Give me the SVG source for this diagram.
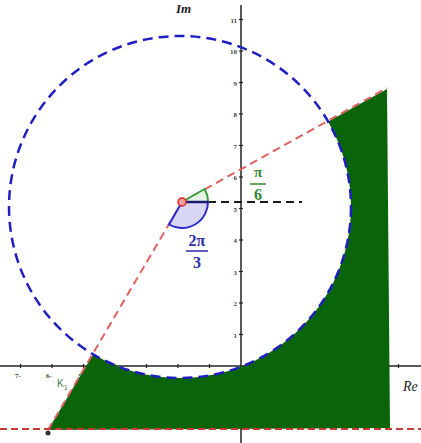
<svg xmlns="http://www.w3.org/2000/svg" width="421" height="443" viewBox="0 0 421 443">
<style>
.axis{stroke:#222;stroke-width:1.5;fill:none}
.tick{stroke:#222;stroke-width:1.2}
.tl{font-family:"Liberation Serif",serif;font-size:7px;font-weight:bold;fill:#444}
.red{stroke:#e06060;stroke-width:2;stroke-dasharray:8 5;fill:none}
.lab{font-family:"Liberation Serif",serif;font-weight:bold}
</style>
<rect width="421" height="443" fill="#fff"/>
<g id="axes">
<line class="axis" x1="0" y1="366" x2="421" y2="366"/>
<line class="axis" x1="241" y1="5" x2="241" y2="443"/>
<g class="tick">
<line x1="20.5" y1="364" x2="20.5" y2="368"/><line x1="52" y1="364" x2="52" y2="368"/><line x1="83.5" y1="364" x2="83.5" y2="368"/>
<line x1="115" y1="364" x2="115" y2="368"/><line x1="146.5" y1="364" x2="146.5" y2="368"/><line x1="178" y1="364" x2="178" y2="368"/>
<line x1="209.5" y1="364" x2="209.5" y2="368"/><line x1="398.5" y1="364" x2="398.5" y2="368"/>
<line x1="239" y1="334.5" x2="243" y2="334.5"/><line x1="239" y1="303" x2="243" y2="303"/><line x1="239" y1="271.5" x2="243" y2="271.5"/>
<line x1="239" y1="240" x2="243" y2="240"/><line x1="239" y1="208.5" x2="243" y2="208.5"/><line x1="239" y1="177" x2="243" y2="177"/>
<line x1="239" y1="145.5" x2="243" y2="145.5"/><line x1="239" y1="114" x2="243" y2="114"/><line x1="239" y1="82.5" x2="243" y2="82.5"/>
<line x1="239" y1="51" x2="243" y2="51"/><line x1="239" y1="19.5" x2="243" y2="19.5"/>
</g>
<g class="tl" text-anchor="end">
<text x="237" y="337.5">1</text><text x="237" y="306">2</text><text x="237" y="274.5">3</text><text x="237" y="243">4</text>
<text x="237" y="211.5">5</text><text x="237" y="180">6</text><text x="237" y="148.5">7</text><text x="237" y="117">8</text>
<text x="237" y="85.5">9</text><text x="237" y="54">10</text><text x="237" y="22.5">11</text>
</g>
<g class="tl" text-anchor="middle">
<text x="18" y="378">7-</text><text x="49" y="378">6-</text><text x="81" y="378">5-</text>
</g>
</g>
<g id="region">
<path d="M48,430 L93.2,354.3 A171,171 0 0 0 328.1,121.5 L387,89 L390,428 Z" fill="#0a640a"/>
</g>
<g id="circle">
<circle cx="180" cy="207" r="171" fill="none" stroke="#1f1fc0" stroke-width="2.5" stroke-dasharray="10 6"/>
</g>
<g id="connectors">
<line class="red" x1="48" y1="430" x2="182" y2="202"/>
<line class="red" x1="182" y1="202" x2="387" y2="88"/>
<line x1="0" y1="429" x2="421" y2="429" stroke="#cc3838" stroke-width="2" stroke-dasharray="7 4"/>
<line x1="208" y1="202" x2="302" y2="202" stroke="#1a1a1a" stroke-width="2" stroke-dasharray="8 5"/>
</g>
<g id="angle-pi6">
<path d="M182,202 L204.5,189 A26,26 0 0 1 208,202 Z" fill="#e6f3e6" stroke="#3a9a3a" stroke-width="2"/>
</g>
<g id="angle-2pi3">
<path d="M182,202 L208,202 A26,26 0 0 1 169,224.5 Z" fill="#d8d8f6" stroke="#2a2ac8" stroke-width="2"/>
<line x1="182" y1="202" x2="208" y2="202" stroke="#1a1a70" stroke-width="2.5"/>
</g>
<g id="center">
<circle cx="182" cy="202" r="4" fill="#f4a0a0" stroke="#dd2020" stroke-width="1.5"/>
</g>
<g id="point-k1">
<circle cx="48" cy="433" r="2.5" fill="#333"/>
</g>
<g id="labels">
<text class="lab" x="258" y="177" font-size="15" fill="#2e8b2e" text-anchor="middle">π</text>
<line x1="250" y1="184" x2="266" y2="184" stroke="#2e8b2e" stroke-width="1.5"/>
<text class="lab" x="258" y="200" font-size="16" fill="#2e8b2e" text-anchor="middle">6</text>
<text class="lab" x="197" y="246" font-size="16" fill="#2b2ba5" text-anchor="middle">2π</text>
<line x1="186" y1="251" x2="208" y2="251" stroke="#2b2ba5" stroke-width="1.5"/>
<text class="lab" x="197" y="268" font-size="16" fill="#2b2ba5" text-anchor="middle">3</text>
<text x="176" y="13" font-family="Liberation Serif,serif" font-size="13" font-weight="bold" font-style="italic" fill="#222">Im</text>
<text x="403" y="391" font-family="Liberation Serif,serif" font-size="14" font-style="italic" fill="#222">Re</text>
<text x="57" y="387" font-family="Liberation Sans,sans-serif" font-size="10" fill="#4a7a4a">K<tspan font-size="7" dy="3">1</tspan></text>
</g>
</svg>
